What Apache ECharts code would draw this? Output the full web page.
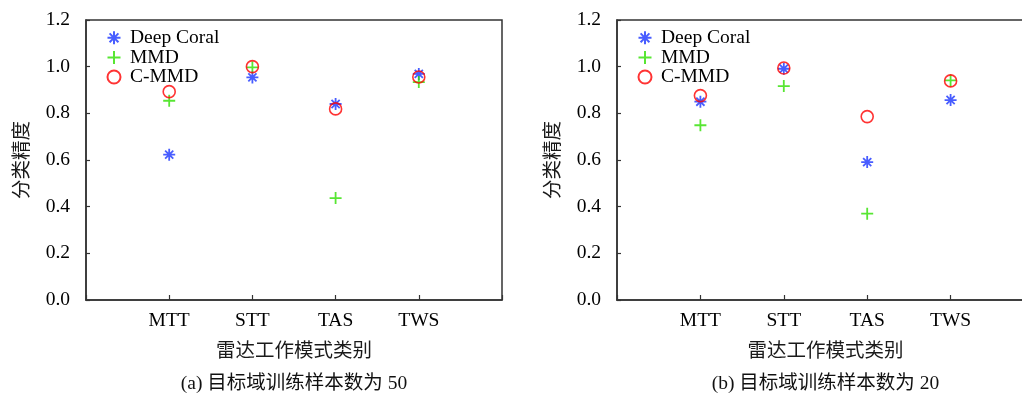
<!DOCTYPE html>
<html>
<head>
<meta charset="utf-8">
<script src="https://cdn.jsdelivr.net/npm/echarts@6/dist/echarts.min.js"></script>
<style>html,body{margin:0;padding:0;background:#fff}#c{width:1022px;height:394px}</style>
</head>
<body>
<div id="c"></div>
<script>
var categories = ['MTT', 'STT', 'TAS', 'TWS'];
var yTicks = [0, 0.2, 0.4, 0.6, 0.8, 1.0, 1.2];
var seriesNames = ['Deep Coral', 'MMD', 'C-MMD'];
// panel (a): 50 target-domain training samples
var deepCoralA = [0.623, 0.954, 0.840, 0.969];
var mmdA       = [0.854, 0.997, 0.437, 0.934];
var cmmdA      = [0.893, 1.000, 0.819, 0.956];
// panel (b): 20 target-domain training samples
var deepCoralB = [0.850, 0.991, 0.591, 0.857];
var mmdB       = [0.749, 0.917, 0.370, 0.941];
var cmmdB      = [0.876, 0.994, 0.786, 0.939];
var captions = ['(a) 目标域训练样本数为 50', '(b) 目标域训练样本数为 20'];
var xName = '雷达工作模式类别';
var yName = '分类精度';

var FONT = '"Liberation Serif", "Times New Roman", "Noto Sans CJK SC", serif';
var FS = 19.5;
var blue = '#1a35ff', green = '#2ee000', red = '#ff0000';
var STAR = 'path://M5,0L5,10M0,5L10,5M1.6,1.6L8.4,8.4M1.6,8.4L8.4,1.6';
var PLUS = 'path://M5,0L5,10M0,5L10,5';

var grids = [
  {left: 86, top: 20, width: 416, height: 280, cx: 294},
  {left: 617, top: 20, width: 417, height: 280, cx: 825.5}
];
var panels = [[deepCoralA, mmdA, cmmdA], [deepCoralB, mmdB, cmmdB]];

function pts(arr) { return arr.map(function (v, i) { return [i + 1, v]; }); }

var option = {
  animation: false,
  backgroundColor: '#fff',
  textStyle: {fontFamily: FONT},
  grid: grids.map(function (g) {
    return {left: g.left, top: g.top, width: g.width, height: g.height,
      outerBoundsMode: 'none', containLabel: false,
      show: true, borderColor: '#333', borderWidth: 1.5, backgroundColor: 'transparent'};
  }),
  xAxis: grids.map(function (g, k) {
    return {
      type: 'value', gridIndex: k, min: 0, max: 5, interval: 1,
      name: xName, nameLocation: 'middle', nameGap: 42,
      nameTextStyle: {fontFamily: FONT, fontSize: FS, color: '#1a1a1a'},
      axisLine: {lineStyle: {color: '#333', width: 1.5}},
      axisTick: {inside: true, length: 5, lineStyle: {color: '#333', width: 1.2}},
      splitLine: {show: false},
      axisLabel: {
        fontFamily: FONT, fontSize: FS, color: '#000', margin: 11,
        formatter: function (v) { return categories[v - 1] || ''; }
      }
    };
  }),
  yAxis: grids.map(function (g, k) {
    return {
      type: 'value', gridIndex: k, min: yTicks[0], max: yTicks[yTicks.length - 1], interval: 0.2,
      name: yName, nameLocation: 'middle', nameGap: 53, nameRotate: 90,
      nameTextStyle: {fontFamily: FONT, fontSize: FS, color: '#1a1a1a'},
      axisLine: {show: true, lineStyle: {color: '#333', width: 1.5}},
      axisTick: {show: true, inside: true, length: 4, lineStyle: {color: '#333', width: 1.2}},
      splitLine: {show: false},
      axisLabel: {
        fontFamily: FONT, fontSize: FS, color: '#000', margin: 16,
        formatter: function (v) { return v.toFixed(1); }
      }
    };
  }),
  legend: grids.map(function (g, k) {
    return {
      orient: 'vertical', left: g.left + 19, top: 28, itemGap: 0,
      itemWidth: 14, itemHeight: 13, padding: 0,
      textStyle: {fontFamily: FONT, fontSize: FS, color: '#000', lineHeight: 19.6, padding: [0, 0, 0, 4]},
      data: seriesNames
    };
  }),
  graphic: captions.map(function (t, k) {
    var g = grids[k];
    return {
      type: 'text', x: g.cx, y: 384,
      style: {text: t, textAlign: 'center', textVerticalAlign: 'middle', font: FS + 'px ' + FONT, fill: '#111'}
    };
  }),
  series: []
};

panels.forEach(function (p, k) {
  option.series.push({
    name: seriesNames[0], type: 'scatter', xAxisIndex: k, yAxisIndex: k,
    symbol: STAR, symbolSize: 12, data: pts(p[0]),
    itemStyle: {color: 'none', borderColor: blue, borderWidth: 1.8}
  });
  option.series.push({
    name: seriesNames[1], type: 'scatter', xAxisIndex: k, yAxisIndex: k,
    symbol: PLUS, symbolSize: 12, data: pts(p[1]),
    itemStyle: {color: 'none', borderColor: green, borderWidth: 1.8}
  });
  option.series.push({
    name: seriesNames[2], type: 'scatter', xAxisIndex: k, yAxisIndex: k,
    symbol: 'circle', symbolSize: 12, data: pts(p[2]),
    itemStyle: {color: 'none', borderColor: red, borderWidth: 1.6}
  });
});

var chart = echarts.init(document.getElementById('c'), null, {renderer: 'canvas'});
chart.setOption(option);
</script>
</body>
</html>
